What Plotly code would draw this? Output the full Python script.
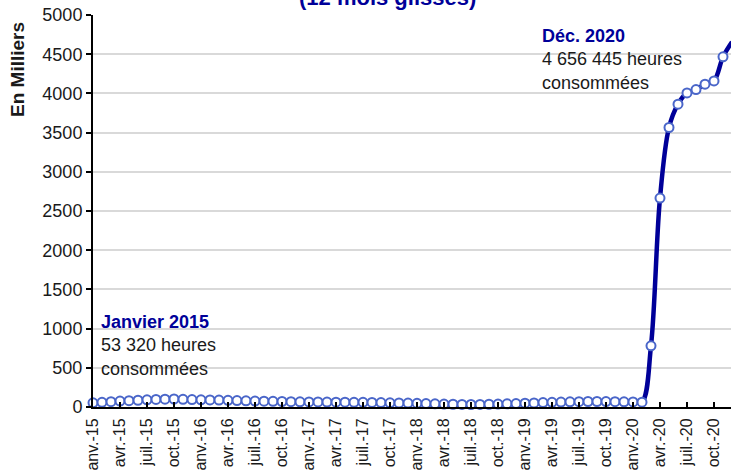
import plotly.graph_objects as go

# ---- data (thousands of hours, rolling 12 months) ----
months = ["janv.", "févr.", "mars", "avr.", "mai", "juin",
          "juil.", "août", "sept.", "oct.", "nov.", "déc."]
years = ["15", "16", "17", "18", "19", "20"]
categories = [f"{m}-{y}" for y in years for m in months]

values_2015 = [53.32, 60, 68, 75, 80, 86, 92, 96, 100, 102, 98, 95]
values_2016 = [92, 90, 88, 85, 82, 79, 76, 74, 72, 70, 68, 66]
values_2017 = [65, 64, 63, 62, 61, 60, 59, 58, 56, 54, 52, 50]
values_2018 = [47, 44, 41, 38, 35, 33, 32, 33, 35, 38, 41, 44]
values_2019 = [48, 52, 56, 60, 63, 66, 68, 70, 70, 69, 68, 66]
values_2020 = [64, 62, 780, 2665, 3565, 3862, 4006, 4049, 4117, 4159, 4466, 4656.445]
values = values_2015 + values_2016 + values_2017 + values_2018 + values_2019 + values_2020

tick_step = 3
tick_idx = list(range(0, len(categories), tick_step))
tick_labels = [categories[i] for i in tick_idx]

y_ticks = list(range(0, 5001, 500))

# ---- layout geometry ----
W, H = 731, 470
L, R, T, B = 93, 0, 15, 63
PW, PH = W - L - R, H - T - B
px_per_cat = 9.0

def xp(px):
    return (px - L) / PW

def yp(py):
    return 1 - (py - T) / PH

FONT = "Liberation Sans, Arial, sans-serif"
NAVY = "#000099"

x = list(range(len(categories)))

fig = go.Figure()
fig.add_trace(go.Scatter(
    x=x, y=values, mode="lines+markers",
    line=dict(color=NAVY, width=4.5, shape="spline", smoothing=1.0),
    marker=dict(size=9, color="white", line=dict(color="#4a66c9", width=2)),
    cliponaxis=False,
    hoverinfo="skip",
))

fig.update_layout(
    width=W, height=H,
    margin=dict(l=L, r=R, t=T, b=B, autoexpand=False),
    paper_bgcolor="white", plot_bgcolor="white",
    showlegend=False,
    font=dict(family=FONT, size=18, color="#1a1a1a"),
    xaxis=dict(
        range=[0, PW / px_per_cat], automargin=False,
        tickmode="array", tickvals=tick_idx, ticktext=tick_labels,
        tickangle=-90, tickfont=dict(size=16, color="#1a1a1a"),
        ticks="inside", ticklen=5, tickcolor="black", tickwidth=1.5,
        ticklabelstandoff=3,
        showline=True, linecolor="black", linewidth=2,
        showgrid=False, zeroline=False,
    ),
    yaxis=dict(
        range=[0, 5000], automargin=False,
        tickmode="array", tickvals=y_ticks, ticktext=[str(v) for v in y_ticks],
        tickfont=dict(size=18, color="#1a1a1a"),
        ticks="outside", ticklen=5, tickcolor="black", tickwidth=1.5,
        showline=True, linecolor="black", linewidth=2,
        showgrid=True, gridcolor="#d9d9d9", gridwidth=1.5,
        zeroline=False,
    ),
)

annotations = [
    dict(text="<b>(12 mois glissés)</b>", x=xp(387), y=yp(12),
         xanchor="center", yanchor="bottom",
         font=dict(size=22, color=NAVY, family=FONT)),
    dict(text="<b>En Milliers</b>", x=xp(18), y=yp(70), textangle=-90,
         xanchor="center", yanchor="middle",
         font=dict(size=19, color="#1a1a1a", family=FONT)),
    dict(text=f"<b><span style='color:{NAVY}'>Janvier 2015</span></b><br>53 320 heures<br>consommées",
         x=xp(99), y=yp(310), xanchor="left", yanchor="top", align="left",
         font=dict(size=18, color="#1a1a1a", family=FONT)),
    dict(text=f"<b><span style='color:{NAVY}'>Déc. 2020</span></b><br>4 656 445 heures<br>consommées",
         x=xp(540), y=yp(24), xanchor="left", yanchor="top", align="left",
         font=dict(size=18, color="#1a1a1a", family=FONT)),
]
for a in annotations:
    a.update(xref="paper", yref="paper", showarrow=False)
fig.update_layout(annotations=annotations)

fig.write_html("out.html", config={"displayModeBar": False},
               post_script="document.body.style.margin='0px';")
